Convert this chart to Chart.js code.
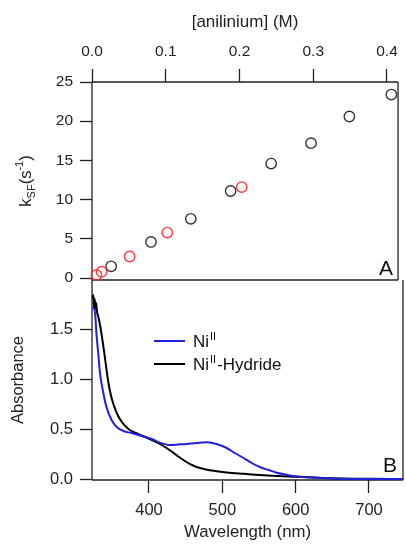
<!DOCTYPE html>
<html>
<head>
<meta charset="utf-8">
<script src="https://cdn.jsdelivr.net/npm/chart.js@4.4.1/dist/chart.umd.min.js"></script>
<style>
  body { margin: 0; background: #fff; }
  #wrap { position: relative; width: 406px; height: 549px; }
  canvas { position: absolute; left: 0; top: 0; }
</style>
</head>
<body>
<div id="wrap">
  <canvas id="kinetics" width="406" height="549"></canvas>
  <canvas id="spectra" width="406" height="549"></canvas>
</div>
<script>
// tick labels
const concTicks = [0, 0.1, 0.2, 0.3, 0.4];
const rateTicks = [0, 5, 10, 15, 20, 25];
const waveTicks = [400, 500, 600, 700];
const absTicks = [0, 0.5, 1.0, 1.5];

// panel A: k_SF vs [anilinium]
const concBlack = [0.026, 0.080, 0.134, 0.188, 0.243, 0.297, 0.349, 0.406];
const kBlack = [1.5, 4.6, 7.55, 11.1, 14.6, 17.2, 20.6, 23.4];
const concRed = [0.006, 0.013, 0.051, 0.102, 0.203];
const kRed = [0.4, 0.8, 2.75, 5.8, 11.6];

// panel B: spectra
const waveNi = [323, 324, 326.5, 328.5, 331, 333, 337.5, 342, 349, 356, 365, 376, 390, 404, 415, 428, 440, 451, 465, 479, 492, 506, 517, 529, 540, 551, 563, 574, 586, 597, 620, 650, 700, 746];
const absNi = [1.70, 1.71, 1.66, 1.44, 1.24, 1.07, 0.87, 0.72, 0.59, 0.52, 0.48, 0.46, 0.43, 0.40, 0.363, 0.34, 0.345, 0.35, 0.36, 0.367, 0.35, 0.31, 0.26, 0.21, 0.16, 0.12, 0.09, 0.063, 0.045, 0.03, 0.015, 0.005, 0.0, 0.0];
const waveHydride = [323, 324, 325, 326, 327, 328, 329, 331, 333, 335.5, 340, 344.5, 349, 356, 363, 372, 385, 395, 404, 415, 429, 440, 450, 460, 471, 483, 495, 506, 530, 551, 575, 597, 620, 650, 700, 746];
const absHydride = [1.80, 1.84, 1.72, 1.80, 1.70, 1.76, 1.68, 1.62, 1.55, 1.44, 1.21, 0.97, 0.81, 0.66, 0.57, 0.50, 0.45, 0.42, 0.39, 0.35, 0.285, 0.225, 0.175, 0.135, 0.107, 0.088, 0.075, 0.066, 0.052, 0.04, 0.03, 0.023, 0.017, 0.008, 0.002, 0.0];

const ink = '#222';
const family = '"Liberation Sans", Arial, sans-serif';
Chart.defaults.font.family = family;
Chart.defaults.color = ink;
Chart.defaults.animation = false;

const pts = (xs, ys) => xs.map((x, i) => ({ x, y: ys[i] }));
const fixTicks = vals => scale => { scale.ticks = vals.map(value => ({ value })); };

// box lines around the plot area
const frame = sides => ({
  id: 'frame',
  beforeDatasetsDraw(chart) {
    const { ctx, chartArea: a } = chart;
    ctx.save();
    ctx.strokeStyle = ink;
    ctx.lineWidth = 1.3;
    ctx.beginPath();
    if (sides.includes('top')) { ctx.moveTo(a.left, a.top); ctx.lineTo(a.right, a.top); }
    if (sides.includes('right')) { ctx.moveTo(a.right, a.top); ctx.lineTo(a.right, a.bottom); }
    if (sides.includes('bottom')) { ctx.moveTo(a.left, a.bottom); ctx.lineTo(a.right, a.bottom); }
    if (sides.includes('left')) { ctx.moveTo(a.left, a.top); ctx.lineTo(a.left, a.bottom); }
    ctx.stroke();
    ctx.restore();
  }
});

const panelLetter = (letter, dx, dy) => ({
  id: 'letter' + letter,
  afterDraw(chart) {
    const { ctx, chartArea: a } = chart;
    ctx.save();
    ctx.font = '21px ' + family;
    ctx.fillStyle = '#111';
    ctx.textAlign = 'right';
    ctx.textBaseline = 'alphabetic';
    ctx.fillText(letter, a.right - dx, a.bottom - dy);
    ctx.restore();
  }
});

// rotated y title with sub/superscripts: k_SF(s^-1)
const kTitle = {
  id: 'kTitle',
  afterDraw(chart) {
    const { ctx, chartArea: a } = chart;
    const parts = [['k', 0, 16.5], ['SF', 4, 11], ['(s', 0, 16.5], ['-1', -8, 11], [')', 0, 16.5]];
    ctx.save();
    ctx.fillStyle = ink;
    let w = 0;
    parts.forEach(p => { ctx.font = p[2] + 'px ' + family; w += ctx.measureText(p[0]).width; });
    ctx.translate(31, (a.top + a.bottom) / 2);
    ctx.rotate(-Math.PI / 2);
    let x = -w / 2;
    parts.forEach(p => {
      ctx.font = p[2] + 'px ' + family;
      ctx.fillText(p[0], x, p[1]);
      x += ctx.measureText(p[0]).width;
    });
    ctx.restore();
  }
};

const legendNames = [['Ni', 'II', ''], ['Ni', 'II', '-Hydride']];
const specLegend = {
  id: 'specLegend',
  afterDraw(chart) {
    const ctx = chart.ctx;
    ctx.save();
    chart.data.datasets.forEach((ds, i) => {
      const y = 341 + i * 23;
      ctx.strokeStyle = ds.borderColor;
      ctx.lineWidth = 2;
      ctx.beginPath();
      ctx.moveTo(154, y);
      ctx.lineTo(185, y);
      ctx.stroke();
      const [main, sup, tail] = legendNames[i];
      ctx.fillStyle = '#111';
      let x = 193;
      ctx.font = '17px ' + family;
      ctx.fillText(main, x, y + 6);
      x += ctx.measureText(main).width + 1;
      ctx.font = '11px ' + family;
      ctx.fillText(sup, x, y - 1);
      x += ctx.measureText(sup).width + 1;
      ctx.font = '17px ' + family;
      ctx.fillText(tail, x, y + 6);
    });
    ctx.restore();
  }
};

const tickGrid = len => ({ drawOnChartArea: false, tickLength: len, tickColor: ink, tickWidth: 1.3 });

new Chart(document.getElementById('kinetics'), {
  type: 'scatter',
  data: {
    datasets: [
      { label: 'red', data: pts(concRed, kRed), borderColor: '#ff3a3a', clip: false },
      { label: 'black', data: pts(concBlack, kBlack), borderColor: '#333', clip: false }
    ]
  },
  options: {
    responsive: false,
    layout: { padding: { left: 0, right: 3, top: 0, bottom: 269 } },
    plugins: { legend: { display: false }, tooltip: { enabled: false } },
    elements: { point: { radius: 5.2, hoverRadius: 5.2, borderWidth: 1.4, backgroundColor: 'rgba(0,0,0,0)' } },
    scales: {
      x: {
        type: 'linear', position: 'top', min: 0, max: 0.415,
        afterBuildTicks: fixTicks(concTicks),
        afterFit: s => { s.height = 82; },
        border: { display: false },
        grid: tickGrid(13),
        ticks: { padding: 8, maxRotation: 0, font: { size: 15.5 }, callback: v => v.toFixed(1) },
        title: { display: true, text: '[anilinium] (M)', font: { size: 17 }, padding: { top: 12, bottom: 0 } }
      },
      y: {
        min: -0.25, max: 25,
        afterBuildTicks: fixTicks(rateTicks),
        afterFit: s => { s.width = 92; },
        border: { display: false },
        grid: tickGrid(12),
        ticks: { padding: 7, font: { size: 15.5 } }
      }
    }
  },
  plugins: [frame(['top', 'right', 'bottom', 'left']), kTitle, panelLetter('A', 5, 5)]
});

new Chart(document.getElementById('spectra'), {
  type: 'line',
  data: {
    datasets: [
      { label: 'NiII', data: pts(waveNi, absNi), borderColor: '#1f1fe0' },
      { label: 'NiII-Hydride', data: pts(waveHydride, absHydride), borderColor: '#000' }
    ]
  },
  options: {
    responsive: false,
    layout: { padding: { left: 0, right: 3, top: 280, bottom: 0 } },
    plugins: { legend: { display: false }, tooltip: { enabled: false } },
    elements: {
      point: { radius: 0, hoverRadius: 0 },
      line: { borderWidth: 2, cubicInterpolationMode: 'monotone' }
    },
    scales: {
      x: {
        type: 'linear', position: 'bottom', min: 322.3, max: 746.4,
        afterBuildTicks: fixTicks(waveTicks),
        afterFit: s => { s.height = 69; },
        border: { display: false },
        grid: tickGrid(13),
        ticks: { padding: 8, maxRotation: 0, font: { size: 16.5 } },
        title: { display: true, text: 'Wavelength (nm)', font: { size: 16.8 }, padding: { top: 0, bottom: 7 } }
      },
      y: {
        min: -0.01, max: 1.99,
        afterBuildTicks: fixTicks(absTicks),
        afterFit: s => { s.width = 92; },
        border: { display: false },
        grid: tickGrid(12),
        ticks: { padding: 7, font: { size: 16.5 }, callback: v => v.toFixed(1) },
        title: { display: true, text: 'Absorbance', font: { size: 16.5 }, padding: { top: 9, bottom: 0 } }
      }
    }
  },
  plugins: [frame(['right', 'bottom', 'left']), specLegend, panelLetter('B', 6, 8)]
});
</script>
</body>
</html>
